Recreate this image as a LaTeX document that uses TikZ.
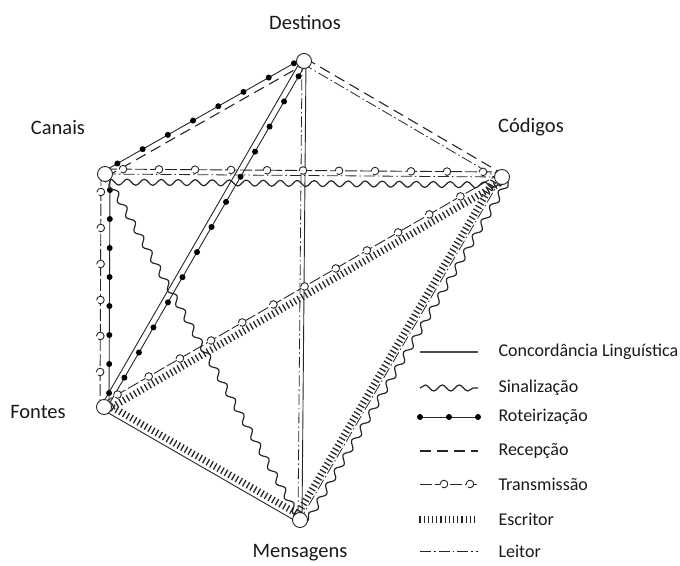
\documentclass[tikz,border=0pt]{standalone}
\usepackage{fontspec}
\setmainfont{Carlito}
\usetikzlibrary{calc,backgrounds,decorations.pathmorphing,decorations.pathreplacing,decorations.markings}

% line between two vertices, shifted sideways by #4 (pt)
\newcommand\lnk[4]{\draw[#1] ($(#2)!#4pt!90:(#3)$) -- ($(#3)!#4pt!-90:(#2)$);}

\tikzset{
  ink/.style={draw=black!85},
  conc/.style={ink, line width=0.9pt},
  sinal/.style={ink, line width=1.2pt, line join=round, decorate,
    decoration={snake, amplitude=3pt, segment length=17pt}},
  dotmark/.style={decorate, decoration={markings, #1}},
  bead/.pic={\fill[black] (0,0) circle (3pt);},
  ring/.pic={\draw[black!85, fill=white, line width=0.9pt] (0,0) circle (3.8pt);},
  roteiro/.style={ink, line width=0.9pt, postaction={dotmark={
    mark=between positions 16pt and -8pt step 29pt with {\pic{bead};}}}},
  recep/.style={ink, line width=1.1pt, dash pattern=on 11pt off 6pt},
  trans/.style={ink, line width=0.9pt, dash pattern=on 12pt off 3pt, postaction={dotmark={
    mark=between positions 18pt and -10pt step 36pt with {\pic{ring};}}}},
  escr/.style={ink, line width=1.3pt, decorate,
    decoration={ticks, segment length=4.2pt, amplitude=3.5pt}},
  leitor/.style={ink, line width=0.8pt, dash pattern=on 11pt off 3pt on 1.5pt off 3pt},
  % legend samples
  legconc/.style={ink, draw=black!70, line width=1.4pt},
  legroteiro/.style={ink, line width=0.9pt, postaction={dotmark={
    mark=between positions 0 and 1 step 0.5 with {\pic{bead};}}}},
  legtrans/.style={ink, line width=0.9pt, dash pattern=on 12pt off 3pt, postaction={dotmark={
    mark=at position 24pt with {\pic{ring};}, mark=at position 50pt with {\pic{ring};}}}},
  vtx/.style={circle, draw=black!85, fill=white, line width=0.9pt, minimum size=15pt, inner sep=0pt},
  lab/.style={font=\fontsize{20.5}{24}\selectfont, text=black!90},
  legtxt/.style={font=\fontsize{18}{21}\selectfont, text=black!90, anchor=west},
}

\begin{document}
\begin{tikzpicture}[x=1pt, y=-1pt]
\useasboundingbox (0,0) rectangle (680,565);

% vertices
\node[vtx] (D) at (304,61) {};
\node[vtx] (C) at (105,174) {};
\node[vtx] (K) at (502,177) {};
\node[vtx] (F) at (104,407) {};
\node[vtx] (M) at (300,520) {};

% vertex labels
\node[lab] (tD) at (305,22) {Destinos};
\node[lab] (tC) at (58,128) {Canais};
\node[lab] (tK) at (531,127) {Códigos};
\node[lab] (tF) at (38,412) {Fontes};
\node[lab] (tM) at (300,553) {Mensagens};

\begin{pgfonlayer}{background}
  % Canais -- Destinos
  \lnk{roteiro}{C}{D}{3}
  \lnk{recep}{C}{D}{-3}
  % Destinos -- Códigos
  \lnk{recep}{D}{K}{3}
  \lnk{leitor}{D}{K}{-3}
  % Destinos -- Mensagens
  \lnk{conc}{D}{M}{2}
  \lnk{leitor}{D}{M}{-2}
  % Destinos -- Fontes
  \lnk{roteiro}{D}{F}{3}
  \lnk{conc}{D}{F}{-3}
  % Canais -- Códigos
  \lnk{trans}{C}{K}{5}
  \lnk{leitor}{C}{K}{0}
  \lnk{sinal}{C}{K}{-8}
  % Canais -- Fontes
  \lnk{roteiro}{C}{F}{5}
  \lnk{trans}{C}{F}{-4}
  % Canais -- Mensagens
  \lnk{sinal}{C}{M}{0}
  % Fontes -- Códigos
  \lnk{trans}{F}{K}{4}
  \lnk{escr}{F}{K}{-4}
  % Fontes -- Mensagens
  \lnk{escr}{F}{M}{4}
  \lnk{conc}{F}{M}{-3}
  % Códigos -- Mensagens
  \lnk{sinal}{K}{M}{7}
  \lnk{leitor}{K}{M}{0}
  \lnk{escr}{K}{M}{-5}
\end{pgfonlayer}

% legend
\foreach \y/\sty/\txt [count=\i] in {
  352/legconc/Concordância Linguística,
  388/sinal/Sinalização,
  417/legroteiro/Roteirização,
  451/recep/Recepção,
  484/legtrans/Transmissão,
  519/escr/Escritor,
  551/leitor/Leitor}{
  \coordinate (l\i) at (420,\y);
  \coordinate (r\i) at (478,\y);
  \draw[\sty] (l\i) -- (r\i);
  \node[legtxt] (t\i) at (495,\y) {\txt};
}
\end{tikzpicture}
\end{document}
